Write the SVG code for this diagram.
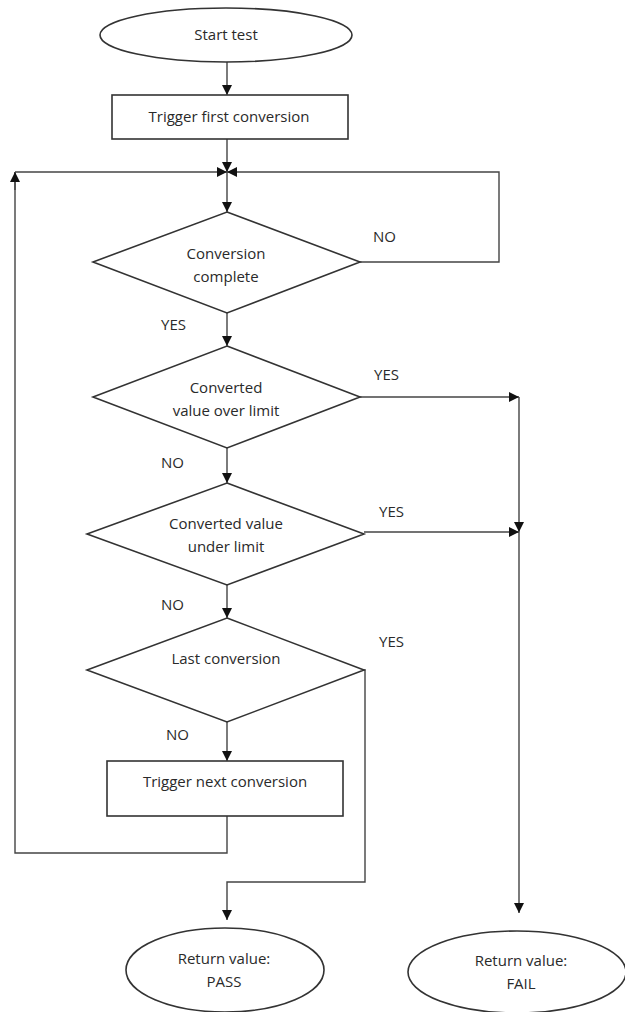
<svg xmlns="http://www.w3.org/2000/svg" width="625" height="1012" viewBox="0 0 625 1012">
<style>
.s{fill:#fff;stroke:#333;stroke-width:1.6}
.c{fill:none;stroke:#444;stroke-width:1.4}
.t{font-family:"Open Sans","Liberation Sans",sans-serif;font-size:15px;fill:#2a2a2a;text-anchor:middle}
.l{font-family:"Open Sans","Liberation Sans",sans-serif;font-size:15px;fill:#2a2a2a}
</style>
<defs>
<marker id="a" viewBox="0 0 10 10" refX="10" refY="5" markerWidth="10" markerHeight="10" markerUnits="userSpaceOnUse" orient="auto">
<path d="M0,0 L10,5 L0,10 z" fill="#111"/>
</marker>
</defs>
<rect width="625" height="1012" fill="#fff"/>
<g id="connectors">
<line class="c" x1="227" y1="62" x2="227" y2="95" marker-end="url(#a)"/>
<line class="c" x1="227" y1="139" x2="227" y2="172" marker-end="url(#a)"/>
<line class="c" x1="227" y1="172" x2="227" y2="212" marker-end="url(#a)"/>
<polyline class="c" points="360,262 499,262 499,172 227,172" marker-end="url(#a)"/>
<line class="c" x1="227" y1="313" x2="227" y2="346" marker-end="url(#a)"/>
<line class="c" x1="360" y1="397" x2="519" y2="397" marker-end="url(#a)"/>
<line class="c" x1="227" y1="448" x2="227" y2="483" marker-end="url(#a)"/>
<polyline class="c" points="519,397 519,532" marker-end="url(#a)"/>
<line class="c" x1="519" y1="532" x2="519" y2="913" marker-end="url(#a)"/>
<line class="c" x1="364" y1="532" x2="519" y2="532" marker-end="url(#a)"/>
<line class="c" x1="227" y1="585" x2="227" y2="618" marker-end="url(#a)"/>
<line class="c" x1="227" y1="722" x2="227" y2="761" marker-end="url(#a)"/>
<polyline class="c" points="227,816 227,853 15,853 15,172"/>
<line class="c" x1="15" y1="190" x2="15" y2="172" marker-end="url(#a)"/>
<line class="c" x1="15" y1="172" x2="227" y2="172" marker-end="url(#a)"/>
<polyline class="c" points="364,670 365,670 365,882 227,882 227,920" marker-end="url(#a)"/>
</g>
<g id="start">
<ellipse class="s" cx="226" cy="35" rx="126" ry="27"/>
<text class="t" x="226" y="40">Start test</text>
</g>
<g id="trigger-first">
<rect class="s" x="112" y="95" width="236" height="44"/>
<text class="t" x="229" y="122">Trigger first conversion</text>
</g>
<g id="conversion-complete">
<polygon class="s" points="227,212 360,262 227,313 93,262"/>
<text class="t" x="226" y="259">Conversion</text>
<text class="t" x="226" y="282">complete</text>
</g>
<g id="over-limit">
<polygon class="s" points="227,346 360,397 227,448 93,397"/>
<text class="t" x="226" y="393">Converted</text>
<text class="t" x="226" y="416">value over limit</text>
</g>
<g id="under-limit">
<polygon class="s" points="227,483 364,534 227,585 87,534"/>
<text class="t" x="226" y="529">Converted value</text>
<text class="t" x="226" y="552">under limit</text>
</g>
<g id="last-conversion">
<polygon class="s" points="227,618 364,670 227,722 87,670"/>
<text class="t" x="226" y="664">Last conversion</text>
</g>
<g id="trigger-next">
<rect class="s" x="107" y="761" width="236" height="55"/>
<text class="t" x="225" y="787">Trigger next conversion</text>
</g>
<g id="pass">
<ellipse class="s" cx="225" cy="970" rx="99" ry="42"/>
<text class="t" x="224" y="964">Return value:</text>
<text class="t" x="224" y="987">PASS</text>
</g>
<g id="fail">
<ellipse class="s" cx="517" cy="972" rx="109" ry="41"/>
<text class="t" x="521" y="966">Return value:</text>
<text class="t" x="521" y="989">FAIL</text>
</g>
<g id="labels">
<text class="l" x="373" y="242">NO</text>
<text class="l" x="161" y="330">YES</text>
<text class="l" x="374" y="380">YES</text>
<text class="l" x="161" y="468">NO</text>
<text class="l" x="379" y="517">YES</text>
<text class="l" x="161" y="610">NO</text>
<text class="l" x="379" y="647">YES</text>
<text class="l" x="166" y="740">NO</text>
</g>
</svg>
